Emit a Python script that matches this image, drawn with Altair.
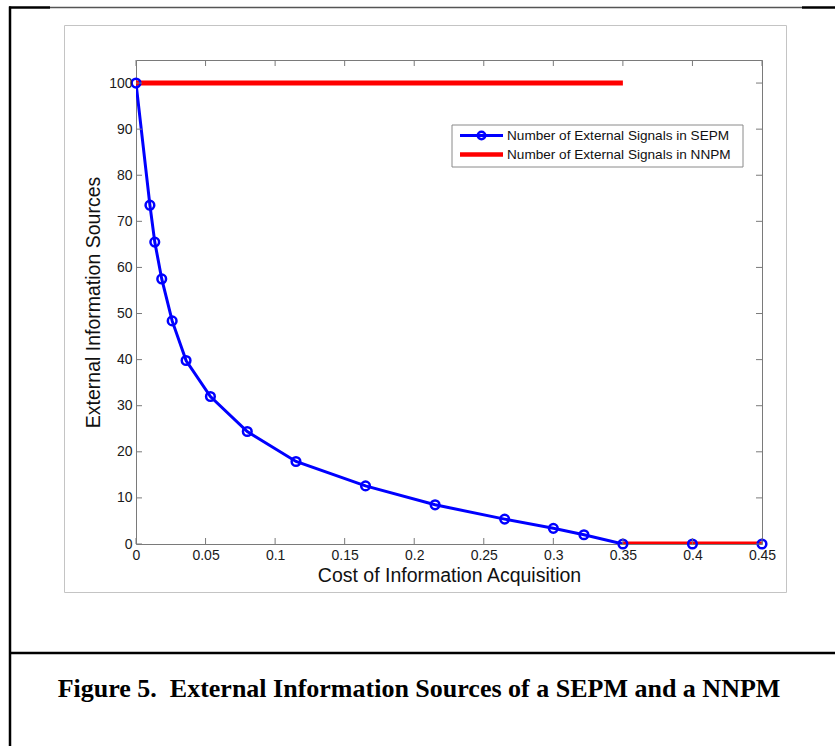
import altair as alt
import pandas as pd

# ---------------- data ----------------
series_names = ["Number of External Signals in SEPM", "Number of External Signals in NNPM"]

cost_sepm = [0.0, 0.010, 0.0135, 0.0185, 0.026, 0.036, 0.0535, 0.080, 0.115,
             0.165, 0.215, 0.265, 0.300, 0.322, 0.350, 0.400, 0.450]
sources_sepm = [100.0, 73.5, 65.5, 57.5, 48.4, 39.8, 32.0, 24.4, 17.9,
                12.6, 8.5, 5.4, 3.4, 2.0, 0.0, 0.0, 0.0]

cost_nnpm = [0.0, 0.35, 0.35, 0.45]
sources_nnpm = [100.0, 100.0, 0.0, 0.0]
segment_nnpm = [1, 1, 2, 2]

x_ticks = [0, 0.05, 0.1, 0.15, 0.2, 0.25, 0.3, 0.35, 0.4, 0.45]
y_ticks = [0, 10, 20, 30, 40, 50, 60, 70, 80, 90, 100]

x_title = "Cost of Information Acquisition"
y_title = "External Information Sources"
caption = "Figure 5.\u00a0 External Information Sources of a SEPM and a NNPM"

# ---------------- tables ----------------
sepm = pd.DataFrame({"cost": cost_sepm, "sources": sources_sepm, "series": series_names[0]})
nnpm = pd.DataFrame({"cost": cost_nnpm, "sources": sources_nnpm, "seg": segment_nnpm,
                     "series": series_names[1]})
xt = pd.DataFrame({"cost": x_ticks})
yt = pd.DataFrame({"sources": y_ticks})
one = pd.DataFrame({"k": [0]})

W, H = 626, 484
BLUE, RED = "#0000ff", "#ff0000"
FRAME = "#7a7a7a"
FONT = "Liberation Sans"

xscale = alt.Scale(domain=[0, 0.45], nice=False, zero=False)
yscale = alt.Scale(domain=[0, 105], nice=False, zero=False)

x_axis = alt.Axis(values=x_ticks, format="~r", ticks=False, domain=False, grid=False,
                  labelFont=FONT, labelFontSize=14, labelColor="#1a1a1a", labelPadding=4,
                  title=x_title, titleFont=FONT, titleFontSize=19.5, titleFontWeight="normal",
                  titleColor="#111", titlePadding=4, labelFlush=False, zindex=2)
y_axis = alt.Axis(values=y_ticks, format="d", ticks=False, domain=False, grid=False,
                  labelFont=FONT, labelFontSize=14, labelColor="#1a1a1a", labelPadding=4,
                  title=y_title, titleFont=FONT, titleFontSize=19.5, titleFontWeight="normal",
                  titleColor="#111", titlePadding=5.5, labelFlush=False, zindex=2)

X = lambda f="cost": alt.X(f"{f}:Q", scale=xscale, axis=x_axis)
Y = lambda f="sources": alt.Y(f"{f}:Q", scale=yscale, axis=y_axis)

# decorations (page frame, gray figure box, caption)
gray_box = alt.Chart(one).mark_rect(fill="transparent", stroke="#c4c4c4", strokeWidth=1).encode(
    x=alt.value(-71.5), x2=alt.value(650.5), y=alt.value(-34.5), y2=alt.value(532.5))
top_gray = alt.Chart(one).mark_rule(color="#555", strokeWidth=1.3).encode(
    x=alt.value(-86), x2=alt.value(666), y=alt.value(-52.5))
top_black_l = alt.Chart(one).mark_rule(color="black", strokeWidth=2.5).encode(
    x=alt.value(-127), x2=alt.value(-86), y=alt.value(-52.5))
top_black_r = alt.Chart(one).mark_rule(color="black", strokeWidth=2.5).encode(
    x=alt.value(666), x2=alt.value(699), y=alt.value(-52.5))
left_line = alt.Chart(one).mark_rule(color="black", strokeWidth=2.5).encode(
    x=alt.value(-126), y=alt.value(-53.5), y2=alt.value(686))
mid_line = alt.Chart(one).mark_rule(color="black", strokeWidth=2.5).encode(
    x=alt.value(-127), x2=alt.value(699), y=alt.value(593))
cap = alt.Chart(pd.DataFrame({"t": [caption]})).mark_text(
    font="Liberation Serif", fontSize=26, fontWeight="bold", color="black",
    align="center", baseline="middle").encode(
    x=alt.value(283), y=alt.value(629), text="t:N")

# inward tick marks on all four sides
tick_style = dict(color=FRAME, strokeWidth=1)
ticks_left = alt.Chart(yt).mark_rule(**tick_style).encode(
    y=Y(), x=alt.value(0), x2=alt.value(6))
ticks_right = alt.Chart(yt).mark_rule(**tick_style).encode(
    y=Y(), x=alt.value(W - 6), x2=alt.value(W))
ticks_bottom = alt.Chart(xt).mark_rule(**tick_style).encode(
    x=X(), y=alt.value(H - 6), y2=alt.value(H))
ticks_top = alt.Chart(xt).mark_rule(**tick_style).encode(
    x=X(), y=alt.value(0), y2=alt.value(6))

# data marks
blue_line = alt.Chart(sepm).mark_line(color=BLUE, strokeWidth=3, clip=True).encode(
    x=X(), y=Y(), order=alt.Order("cost:Q"))
red_line = alt.Chart(nnpm).mark_line(color=RED, strokeWidth=5, clip=True).encode(
    x=X(), y=Y(), detail="seg:N")
blue_pts = alt.Chart(sepm).mark_point(shape="circle", filled=False, color=BLUE,
                                      strokeWidth=2.5, size=75, opacity=1).encode(
    x=X(), y=Y())

# legend box
leg_names = pd.DataFrame({"name": series_names})
leg_box = alt.Chart(one).mark_rect(fill="white", stroke="#8a8a8a", strokeWidth=1).encode(
    x=alt.value(316), x2=alt.value(607), y=alt.value(65), y2=alt.value(107))
leg_l1 = alt.Chart(one).mark_rule(color=BLUE, strokeWidth=3).encode(
    x=alt.value(324), x2=alt.value(367), y=alt.value(75.5))
leg_p1 = alt.Chart(one).mark_point(shape="circle", filled=False, color=BLUE,
                                   strokeWidth=2.5, size=55, opacity=1).encode(
    x=alt.value(345.5), y=alt.value(75.5))
leg_l2 = alt.Chart(one).mark_rule(color=RED, strokeWidth=4.5).encode(
    x=alt.value(324), x2=alt.value(367), y=alt.value(94.5))
leg_t1 = alt.Chart(leg_names.iloc[[0]]).mark_text(
    font=FONT, fontSize=13.6, color="#111", align="left", baseline="middle").encode(
    x=alt.value(371), y=alt.value(75.5), text="name:N")
leg_t2 = alt.Chart(leg_names.iloc[[1]]).mark_text(
    font=FONT, fontSize=13.6, color="#111", align="left", baseline="middle").encode(
    x=alt.value(371), y=alt.value(94.5), text="name:N")

chart = alt.layer(
    blue_line, red_line, blue_pts,
    ticks_left, ticks_right, ticks_bottom, ticks_top,
    gray_box, top_gray, top_black_l, top_black_r, left_line, mid_line, cap,
    leg_box, leg_l1, leg_p1, leg_l2, leg_t1, leg_t2,
).properties(
    width=W, height=H,
    padding={"left": 136, "top": 60, "right": 73, "bottom": 202},
    autosize=alt.AutoSizeParams(type="none"),
    background="white",
).configure_view(stroke=FRAME, strokeWidth=1)

chart.save("out.html", embed_options={"renderer": "svg", "actions": False})
